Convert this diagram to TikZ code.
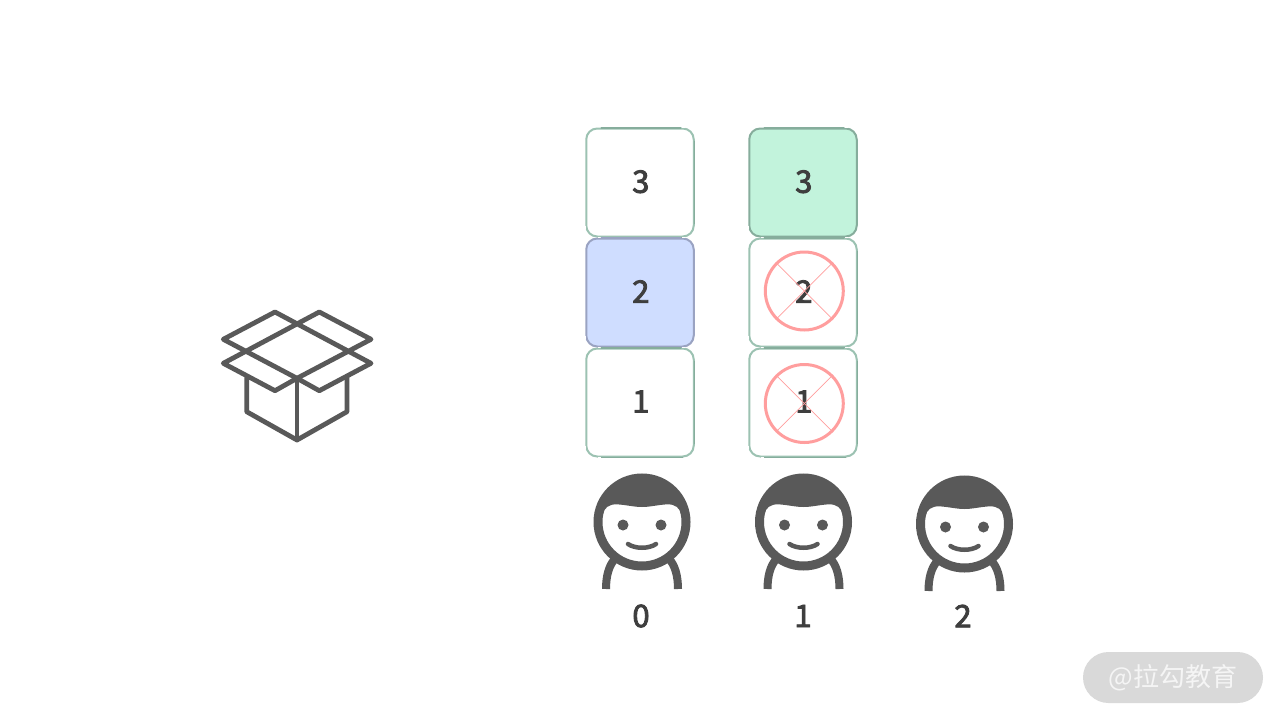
\documentclass[tikz,border=0pt]{standalone}
\usepackage{fontspec}
\setmainfont{Noto Sans CJK SC}
\newcommand\heavy[1]{\special{pdf:code q 2 Tr 0.85 w}#1\special{pdf:code Q}}
\usetikzlibrary{calc}
\definecolor{ink}{HTML}{595959}
\definecolor{txt}{HTML}{3E3E3E}
\definecolor{edge}{HTML}{9CC2B2}
\definecolor{edgedark}{HTML}{86AD9C}
\definecolor{blueedge}{HTML}{9AA3C2}
\definecolor{bluefill}{HTML}{CFDDFF}
\definecolor{greenfill}{HTML}{C2F3DC}
\definecolor{cross}{HTML}{FF9E9E}
\tikzset{
  x=1pt,y=-1pt,
  cell/.style={draw=edge,line width=2pt,fill=white,rounded corners=11pt,minimum width=107.5pt,minimum height=108pt,inner sep=0pt,text=txt,font=\fontsize{31}{31}\selectfont},
  numlabel/.style={text=txt,inner sep=0pt,font=\fontsize{31}{31}\selectfont},
  boxline/.style={draw=ink,line width=4.8pt,line join=round,line cap=round},
  ban/.style={draw=cross,line width=3pt,circle,minimum size=78pt,inner sep=0pt},
  banline/.style={draw=cross,line width=.7pt},
  sketch/.style={line width=1.4pt,line cap=round},
  person/.pic={
    \begin{scope}
      \clip (0,0) circle (44.5);
      \fill[ink] (-46,0) -- (-39,-8) .. controls (-38,-14) and (-33,-18) .. (-25,-17.7) .. controls (-15,-17) and (-8,-15) .. (0,-15) .. controls (8,-15) and (15,-17) .. (25,-17.7) .. controls (33,-18) and (38,-14) .. (39,-8) -- (46,0) -- (46,-50) -- (-46,-50) -- cycle;
    \end{scope}
    \draw[ink,line width=9pt] (0,0) circle (44);
    \fill[ink] (-19,3) circle (5.5) (19,3) circle (5.5);
    \draw[ink,line width=4.5pt,line cap=round] (-14,22) .. controls (-7,27) and (7,27) .. (14,22);
    \draw[ink,line width=8pt] (-27,37) .. controls (-33,43) and (-36,54) .. (-36,67);
    \draw[ink,line width=8pt] (27,37) .. controls (33,43) and (36,54) .. (36,67);
  }
}
\begin{document}
\begin{tikzpicture}
\useasboundingbox (0,0) rectangle (1280,720);
\fill[white] (0,0) rectangle (1280,720);
% open box
\coordinate (bA) at (275,312); \coordinate (bB) at (319.3,312);
\coordinate (bC) at (223.3,339.3); \coordinate (bD) at (371,339.3);
\coordinate (bE) at (223.3,363.3); \coordinate (bF) at (371,363.3);
\coordinate (bG) at (275,390.7); \coordinate (bH) at (319.3,390.7);
\coordinate (bI) at (297,378.3);
\coordinate (bJ) at (246.7,378); \coordinate (bK) at (246.7,411.7);
\coordinate (bL) at (297,440); \coordinate (bM) at (347,411.7); \coordinate (bN) at (347,378);
\draw[boxline] (bC) -- (bA) -- (bF) -- (bH) -- (bI) -- (bG) -- (bE) -- (bB) -- (bD) -- (bI) -- (bC) -- cycle;
\draw[boxline] (bJ) -- (bK) -- (bL) -- (bM) -- (bN);
\draw[boxline] (bI) -- (bL);
% cells
\node[cell] (l3) at (640,182.5) {\hspace{1.6pt}\raisebox{2pt}{\heavy{3}}};
\node[cell,fill=bluefill,draw=blueedge] (l2) at (640,292.5) {\hspace{1.6pt}\raisebox{2pt}{\heavy{2}}};
\node[cell] (l1) at (640,402.5) {\hspace{1.6pt}\raisebox{2pt}{\heavy{1}}};
\node[cell,fill=greenfill,draw=edgedark] (r3) at (803,182.5) {\hspace{1.6pt}\raisebox{2pt}{\heavy{3}}};
\node[cell] (r2) at (803,292.5) {\hspace{1.6pt}\raisebox{2pt}{\heavy{2}}};
\node[cell] (r1) at (803,402.5) {\hspace{1.6pt}\raisebox{2pt}{\heavy{1}}};
% hand-drawn touches
\foreach \n/\c in {l3/edgedark,l2/blueedge,l1/edgedark,r3/edgedark,r2/edgedark,r1/edgedark}{
  \draw[sketch,\c] ($(\n.north west)+(16,0.3)$) -- ($(\n.north east)+(-14,0.3)$);
  \draw[sketch,\c] ($(\n.south west)+(16,-0.3)$) -- ($(\n.south east)+(-12,-0.3)$);
  \draw[sketch,\c] ($(\n.north east)+(-0.5,14)$) -- ($(\n.south east)+(-0.5,-14)$);
  \draw[white,line width=1.5pt] ($(\n.south west)+(0.4,-12)$) -- ($(\n.south west)+(0.4,-9)$);
  \draw[white,line width=1.5pt] ($(\n.south west)+(13,0)$) -- ($(\n.south west)+(16,0)$);
  \draw[white,line width=1.5pt] ($(\n.north east)+(-13,0)$) -- ($(\n.north east)+(-10,0)$);
}
% crossed-out marks
\node[ban] (b2) at (804.3,291) {};
\node[ban] (b1) at (804.3,403.5) {};
\foreach \n in {b2,b1}{
  \draw[banline] (\n.45) -- (\n.225);
  \draw[banline] (\n.135) -- (\n.315);
}
% people
\pic at (642,522) {person};
\pic at (803.5,522) {person};
\pic at (964.5,524) {person};
\node[numlabel] (p0) at (641,616) {\heavy{0}};
\node[numlabel] (p1) at (803,616) {\heavy{1}};
\node[numlabel] (p2) at (963,616) {\heavy{2}};
% watermark
\node[fill=black!15,rounded corners=25.5pt,minimum width=180pt,minimum height=51pt,inner sep=0pt,text=white!96!black,font=\fontsize{26}{26}\selectfont] (mark) at (1173,677.5) {@拉勾教育};
\end{tikzpicture}
\end{document}
